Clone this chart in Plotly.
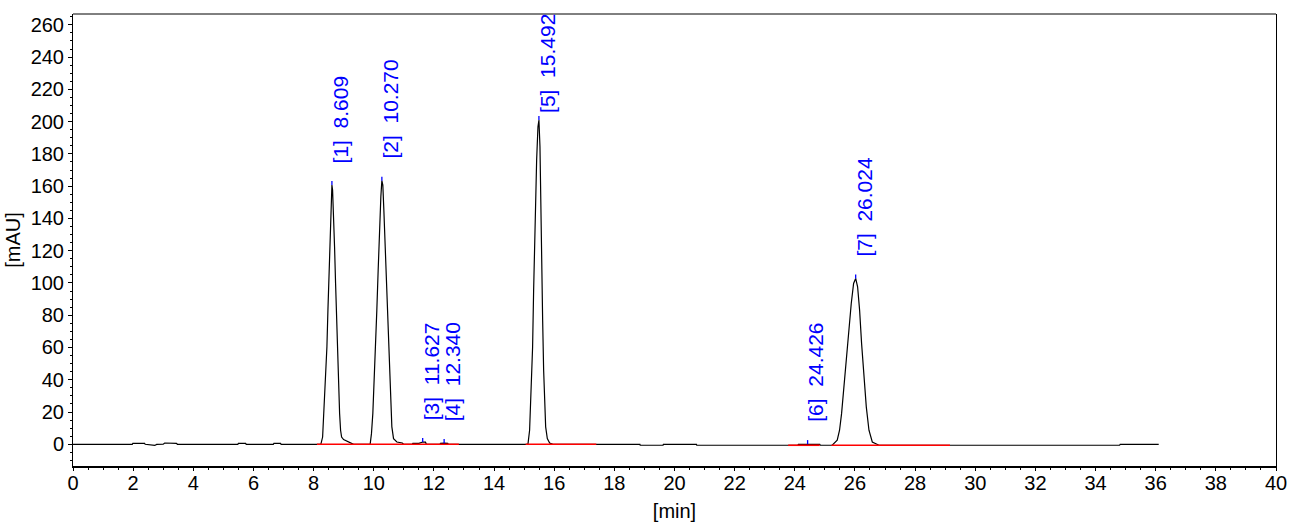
import plotly.graph_objects as go

# chromatogram trace (time in min, signal in mAU)
base_start_t = [0.0, 1.97, 1.99, 2.38, 2.40, 2.65, 2.72, 2.78, 3.00, 3.05, 3.44, 3.47,
                5.48, 5.50, 5.74, 5.76, 6.66, 6.68, 6.90, 6.92, 8.10]
base_start_mau = [0, 0, 0.6, 0.6, 0, -0.2, -0.7, -0.1, 0, 0.8, 0.6, 0,
                  0, 0.6, 0.6, 0, 0, 0.6, 0.6, 0, 0]

peak1_t = [8.24, 8.30, 8.33, 8.365, 8.41, 8.443, 8.476, 8.51, 8.543, 8.576, 8.609,
           8.631, 8.665, 8.697, 8.731, 8.765, 8.797, 8.831, 8.865, 8.897, 8.931,
           8.997, 9.165, 9.33]
peak1_mau = [0, 4.5, 15.9, 25.2, 48, 60.4, 83, 99.7, 118.3, 143, 160.7,
             157.6, 143, 122.4, 99.7, 76.9, 56.2, 35.6, 19, 8.7, 4.5,
             2.9, 1.4, 0]

peak2_t = [9.88, 9.924, 9.969, 10.013, 10.058, 10.102, 10.147, 10.191, 10.236, 10.270,
           10.302, 10.336, 10.38, 10.424, 10.469, 10.513, 10.558, 10.602, 10.658,
           10.769, 10.95, 10.99]
peak2_mau = [0, 6.6, 19, 37.6, 62.4, 83, 108, 132.8, 153.4, 163.4,
             160.7, 145, 122.4, 97.6, 72.8, 48, 25.2, 10.8, 3.5,
             1.4, 0.8, 0]

small34_t = [11.28, 11.30, 11.50, 11.55, 11.627, 11.72, 11.75,
             12.20, 12.22, 12.34, 12.46, 12.48]
small34_mau = [0, 0.6, 0.6, 1.0, 1.4, 1.3, 0,
               0, 0.6, 0.7, 0.6, 0]

peak5_t = [15.127, 15.182, 15.216, 15.249, 15.282, 15.316, 15.349, 15.382, 15.416,
           15.46, 15.492, 15.527, 15.549, 15.582, 15.616, 15.649, 15.682, 15.716,
           15.771, 15.849, 15.96]
peak5_mau = [0, 8.7, 27.3, 41.8, 60.4, 95.5, 130.7, 155.5, 176.2,
             196.8, 201, 184.4, 151.4, 118.3, 76.9, 45.9, 27.3, 10.8,
             3.5, 0.8, 0]

base_mid_t = [18.85, 18.86, 19.62, 19.63, 20.73, 20.74, 24.10, 24.12, 24.426, 24.83, 24.85]
base_mid_mau = [0, -0.6, -0.6, 0, 0, -0.6, -0.6, 0, 0.1, 0, -0.6]

peak7_t = [25.243, 25.41, 25.488, 25.555, 25.632, 25.71, 25.799, 25.877, 25.955,
           26.024, 26.088, 26.155, 26.221, 26.299, 26.377, 26.466, 26.577, 26.799]
peak7_mau = [-0.6, 2.5, 8.7, 19, 35.6, 54.2, 72.8, 87.3, 99.7,
             102.8, 97.6, 83.1, 62.4, 41.8, 23.2, 8.7, 1.4, -0.6]

base_end_t = [34.80, 34.82, 36.10]
base_end_mau = [-0.6, 0, 0]

# integrated peaks
peak_no = [1, 2, 3, 4, 5, 6, 7]
peak_rt = [8.609, 10.270, 11.627, 12.340, 15.492, 24.426, 26.024]
peak_top = [160.7, 163.4, 1.4, 0.7, 201, 0.1, 102.8]

# red baselines under the integrated peaks
bl_start = [8.11, 15.05, 23.78, 25.22]
bl_end = [12.83, 17.40, 24.83, 29.16]
bl_level = [0, 0, -0.6, -0.6]

FONT = "Liberation Sans, Arial, sans-serif"

t_all = base_start_t + peak1_t + peak2_t + small34_t + peak5_t + base_mid_t + peak7_t + base_end_t
v_all = base_start_mau + peak1_mau + peak2_mau + small34_mau + peak5_mau + base_mid_mau + peak7_mau + base_end_mau

fig = go.Figure()
fig.add_trace(go.Scatter(x=t_all, y=v_all, mode="lines",
                         line=dict(color="black", width=1.2), hoverinfo="skip"))

# baselines
bx, by = [], []
for s, e, lv in zip(bl_start, bl_end, bl_level):
    bx += [s, e, None]
    by += [lv, lv, None]
fig.add_trace(go.Scatter(x=bx, y=by, mode="lines",
                         line=dict(color="red", width=1.6), hoverinfo="skip"))

# little blue apex marks
mx, my = [], []
for rt, top in zip(peak_rt, peak_top):
    mx += [rt, rt, None]
    my += [top, top + 2.5, None]
fig.add_trace(go.Scatter(x=mx, y=my, mode="lines",
                         line=dict(color="blue", width=1.3), hoverinfo="skip"))

for n, rt, top in zip(peak_no, peak_rt, peak_top):
    fig.add_annotation(x=rt, y=top, xref="x", yref="y",
                       text="[%d]\u00a0\u00a0%.3f" % (n, rt),
                       textangle=-90, showarrow=False,
                       xanchor="left", yanchor="bottom",
                       xshift=-5, yshift=5 if n == 5 else 20,
                       font=dict(family=FONT, size=21, color="blue"))

# top frame line
fig.add_shape(type="line", xref="paper", yref="paper", x0=0, x1=1, y0=1, y1=1,
              line=dict(color="black", width=1))

fig.update_layout(
    template="none",
    width=1291, height=528,
    margin=dict(l=73, r=15, t=14, b=62, autoexpand=False),
    plot_bgcolor="white", paper_bgcolor="white",
    showlegend=False,
    font=dict(family=FONT, size=20, color="black"),
    xaxis=dict(range=[0, 40], tick0=0, dtick=2, ticks="outside", ticklen=3,
               tickcolor="black", showline=True, linecolor="black", linewidth=2,
               showgrid=False, zeroline=False, automargin=False, ticklabelstandoff=-5,
               minor=dict(dtick=0.5, ticks="outside", ticklen=2, tickcolor="black", showgrid=False),
               title=dict(text="[min]", standoff=11, font=dict(size=20))),
    yaxis=dict(range=[-13.46, 266.7], tick0=0, dtick=20, ticks="outside", ticklen=4,
               tickcolor="black", showline=True, linecolor="black", linewidth=1, mirror=True,
               showgrid=False, zeroline=False, automargin=False,
               minor=dict(dtick=5, ticks="outside", ticklen=2, tickcolor="black", showgrid=False),
               title=dict(text="[mAU]", standoff=4, font=dict(size=20))),
)

# page body has a default 8px margin; drop it so the figure sits at the window corner
fig.write_html("out.html", config={"displayModeBar": False},
               post_script="document.body.style.margin='0';")
